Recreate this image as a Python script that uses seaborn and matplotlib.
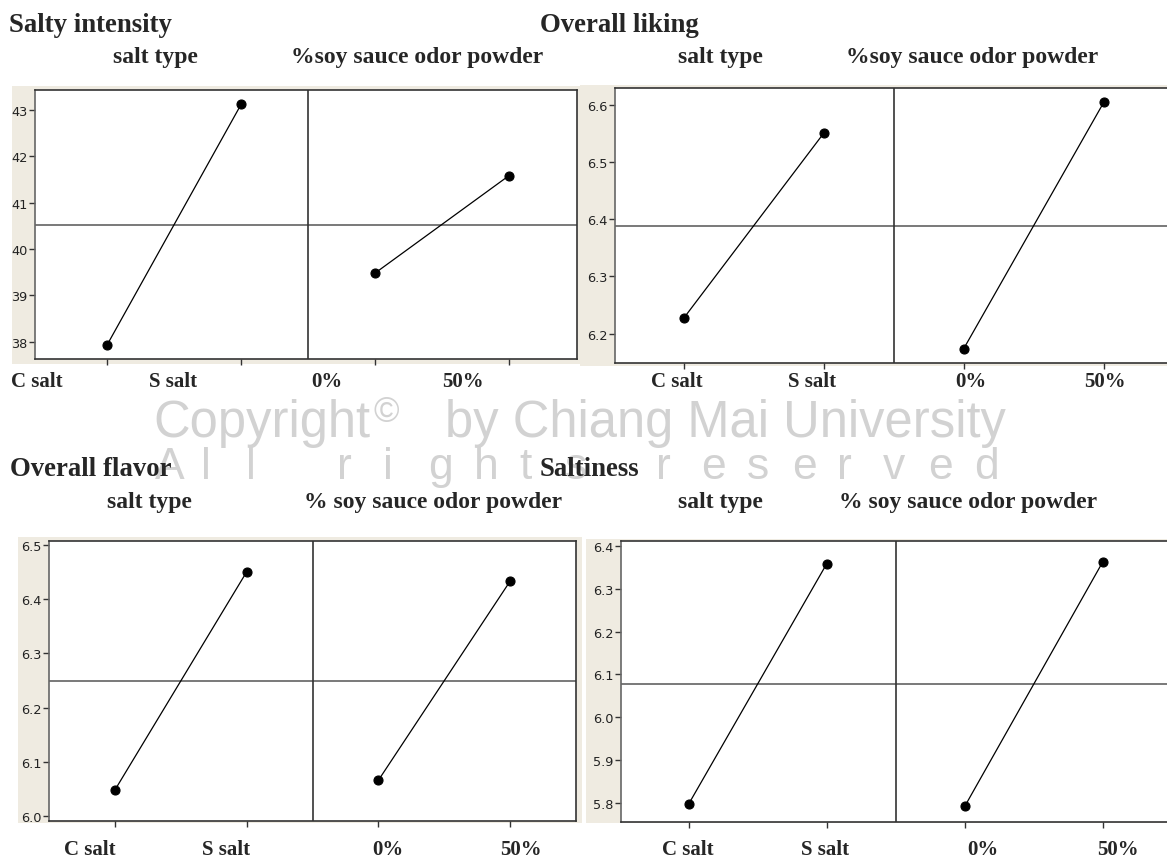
import numpy as np
import pandas as pd
import matplotlib
matplotlib.use("Agg")
import matplotlib.pyplot as plt
import seaborn as sns
from matplotlib.patches import Rectangle

# ---- data: factor-level means for each sensory attribute ----
chart_titles = ["Salty intensity", "Overall liking", "Overall flavor", "Saltiness"]
factor_labels_top = ["salt type", "%soy sauce odor powder"]
factor_labels_bottom = ["salt type", "% soy sauce odor powder"]
salt_levels = ["C salt", "S salt"]
soy_levels = ["0%", "50%"]

salty_intensity_salt = [37.94, 43.12]
salty_intensity_soy = [39.48, 41.58]
overall_liking_salt = [6.227, 6.550]
overall_liking_soy = [6.174, 6.604]
overall_flavor_salt = [6.048, 6.450]
overall_flavor_soy = [6.066, 6.433]
saltiness_salt = [5.797, 6.359]
saltiness_soy = [5.792, 6.364]

salty_intensity_ticks = [38, 39, 40, 41, 42, 43]
overall_liking_ticks = [6.2, 6.3, 6.4, 6.5, 6.6]
overall_flavor_ticks = [6.0, 6.1, 6.2, 6.3, 6.4, 6.5]
saltiness_ticks = [5.8, 5.9, 6.0, 6.1, 6.2, 6.3, 6.4]

# ---- page geometry (pixels) ----
W, H = 1167, 862
BEIGE = "#efebe1"
SERIF = ["Liberation Serif", "DejaVu Serif"]
SANS = ["DejaVu Sans"]

sns.set_style("white")
plt.rcParams["font.family"] = SANS


def fx(x):
    return x / W


def fy(y):
    return 1 - y / H


panels = [
    dict(title=chart_titles[0], salt=salty_intensity_salt, soy=salty_intensity_soy,
         ticks=salty_intensity_ticks, fmt="{:.0f}", factors=factor_labels_top,
         axes=(35, 91, 577, 360), panel=(12, 87, 580, 365),
         xlim=(-0.54, 3.51), ylim=(37.63, 43.43),
         title_xy=(9, 32), sub_x=(155, 417), sub_y=63,
         label_x=(37, 173, 327, 463), label_y=387),
    dict(title=chart_titles[1], salt=overall_liking_salt, soy=overall_liking_soy,
         ticks=overall_liking_ticks, fmt="{:.1f}", factors=factor_labels_top,
         axes=(615, 89, 1171, 364), panel=(580, 86, 1167, 367),
         xlim=(-0.49, 3.48), ylim=(6.149, 6.629),
         title_xy=(540, 32), sub_x=(720, 972), sub_y=63,
         label_x=(677, 812, 971, 1105), label_y=387),
    dict(title=chart_titles[2], salt=overall_flavor_salt, soy=overall_flavor_soy,
         ticks=overall_flavor_ticks, fmt="{:.1f}", factors=factor_labels_bottom,
         axes=(49, 542, 576, 822), panel=(18, 538, 582, 824),
         xlim=(-0.50, 3.50), ylim=(5.991, 6.507),
         title_xy=(10, 476), sub_x=(149, 433), sub_y=508,
         label_x=(90, 226, 388, 521), label_y=855),
    dict(title=chart_titles[3], salt=saltiness_salt, soy=saltiness_soy,
         ticks=saltiness_ticks, fmt="{:.1f}", factors=factor_labels_bottom,
         axes=(621, 542, 1172, 823), panel=(586, 540, 1167, 824),
         xlim=(-0.49, 3.50), ylim=(5.755, 6.412),
         title_xy=(540, 476), sub_x=(720, 968), sub_y=508,
         label_x=(688, 825, 983, 1118), label_y=855),
]

fig = plt.figure(figsize=(W / 100, H / 100), dpi=100)
fig.patch.set_facecolor("white")

# ---- background copyright watermark ----
WM = "#d2d2d2"
WM_FONT = ["Liberation Sans", "DejaVu Sans"]
fig.text(fx(153), fy(437), "Copyright", fontsize=36.5, color=WM,
         family=WM_FONT, ha="left", va="baseline", zorder=-10)
fig.text(fx(374), fy(422), "\u00a9", fontsize=25, color=WM,
         family=WM_FONT, ha="left", va="baseline", zorder=-10)
fig.text(fx(445), fy(437), "by Chiang Mai University", fontsize=36.5, color=WM,
         family=WM_FONT, ha="left", va="baseline", zorder=-10)
for i, ch in enumerate("All rights reserved"):
    fig.text(fx(155 + i * 45.5), fy(479), ch, fontsize=32, color=WM,
             family=WM_FONT, ha="left", va="baseline", zorder=-10)

for p in panels:
    # beige frame behind the tick-label area
    bl, bt, br, bb = p["panel"]
    fig.patches.append(Rectangle((fx(bl), fy(bb)), (br - bl) / W, (bb - bt) / H,
                                 transform=fig.transFigure, facecolor=BEIGE,
                                 edgecolor="none", zorder=-5))

    l, t, r, b = p["axes"]
    ax = fig.add_axes([fx(l), fy(b), (r - l) / W, (b - t) / H])
    ax.set_facecolor("white")

    df = pd.DataFrame({
        "pos": [0, 1, 2, 3],
        "mean": list(p["salt"]) + list(p["soy"]),
        "factor": ["salt type"] * 2 + ["soy powder"] * 2,
    })
    grand_mean = df["mean"].mean()

    ax.axhline(grand_mean, color="#555555", lw=1.1, zorder=1)
    ax.axvline(1.5, color="#333333", lw=1.2, zorder=1)
    sns.lineplot(data=df, x="pos", y="mean", units="factor", estimator=None,
                 color="black", lw=0.9, marker="o", markersize=6.5,
                 markeredgecolor="black", markeredgewidth=0.8, ax=ax, zorder=3)

    ax.set_xlim(*p["xlim"])
    ax.set_ylim(*p["ylim"])
    ax.set_xticks([0, 1, 2, 3])
    ax.set_xticklabels([])
    ax.set_yticks(p["ticks"])
    ax.set_yticklabels([p["fmt"].format(v) for v in p["ticks"]])
    ax.set_xlabel("")
    ax.set_ylabel("")
    ax.tick_params(axis="both", direction="out", length=4, width=1,
                   color="#333333", labelsize=9.3, labelcolor="#222222", pad=1.5,
                   left=True, bottom=True)
    for side, sp in ax.spines.items():
        sp.set_visible(True)
        sp.set_color("#333333")
        sp.set_linewidth(1.2)
    ax.spines["left"].set_color("#666666")

    # chart title, factor headings and level names
    tx, ty = p["title_xy"]
    fig.text(fx(tx), fy(ty), p["title"], fontsize=19.3, fontweight="bold",
             family=SERIF, ha="left", va="baseline")
    for cx, name in zip(p["sub_x"], p["factors"]):
        fig.text(fx(cx), fy(p["sub_y"]), name, fontsize=17, fontweight="bold",
                 family=SERIF, ha="center", va="baseline")
    for cx, name in zip(p["label_x"], salt_levels + soy_levels):
        fig.text(fx(cx), fy(p["label_y"]), name, fontsize=15, fontweight="bold",
                 family=SERIF, ha="center", va="baseline")

fig.savefig("out.png", dpi=100, facecolor="white")
